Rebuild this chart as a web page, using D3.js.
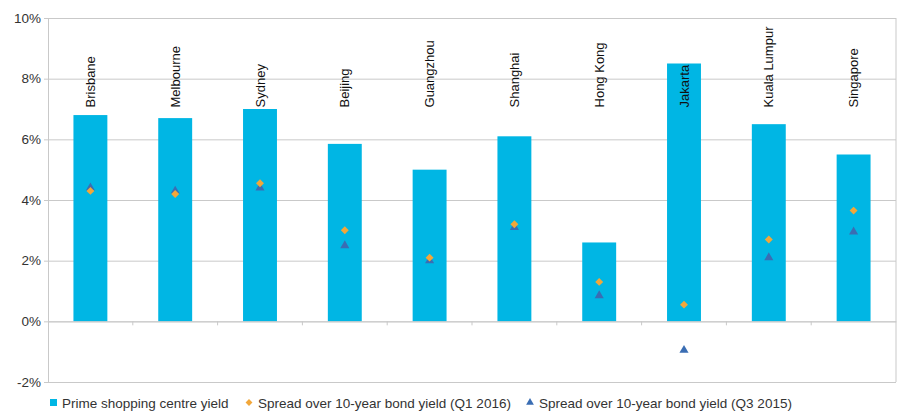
<!DOCTYPE html>
<html>
<head>
<meta charset="utf-8">
<script src="https://cdn.jsdelivr.net/npm/d3@7/dist/d3.min.js"></script>
<style>
  html, body { margin: 0; padding: 0; background: #fff; }
  svg { display: block; font-family: "Liberation Sans", Arial, Helvetica, sans-serif; }
</style>
</head>
<body>
<svg id="chart" width="898" height="411"></svg>
<script>
// Cities
const cities = ["Brisbane", "Melbourne", "Sydney", "Beijing", "Guangzhou", "Shanghai", "Hong Kong", "Jakarta", "Kuala Lumpur", "Singapore"];
// Prime shopping centre yield (%)
const primeYield = [6.8, 6.7, 7.0, 5.85, 5.0, 6.1, 2.6, 8.5, 6.5, 5.5];
// Spread over 10-year bond yield, Q1 2016 (%)
const spreadQ1_2016 = [4.3, 4.2, 4.55, 3.0, 2.1, 3.2, 1.3, 0.55, 2.7, 3.65];
// Spread over 10-year bond yield, Q3 2015 (%)
const spreadQ3_2015 = [4.4, 4.3, 4.4, 2.5, 2.0, 3.1, 0.85, -0.95, 2.1, 2.95];
// Y axis ticks (%)
const yTicks = [-2, 0, 2, 4, 6, 8, 10];
const legendLabels = ["Prime shopping centre yield", "Spread over 10-year bond yield (Q1 2016)", "Spread over 10-year bond yield (Q3 2015)"];

const colBar = "#00b6e4", colDiamond = "#f2a73a", colTri = "#3a6db3";
const gridCol = "#c9c9c9", textCol = "#333";

const svg = d3.select("#chart");
const m = { left: 48, right: 2, top: 18, bottom: 29 };
const W = 898, H = 411;

const x = d3.scaleBand().domain(cities).range([m.left, W - m.right]).padding(0);
const y = d3.scaleLinear().domain([-2, 10]).range([H - m.bottom, m.top]);
const barW = x.bandwidth() * 0.4;

// gridlines and y labels
const yAxis = d3.axisLeft(y).tickValues(yTicks).tickSize(-(W - m.right - m.left)).tickSizeOuter(0)
  .tickFormat(d => d + "%").tickPadding(7);
const gy = svg.append("g").attr("transform", `translate(${m.left},0)`).call(yAxis);
gy.select(".domain").attr("stroke", gridCol);
gy.selectAll(".tick line").attr("stroke", gridCol).attr("x1", -4);
gy.selectAll(".tick text").attr("fill", textCol).attr("font-size", 13.5).attr("font-family", "Liberation Sans, Arial, sans-serif");

// right border
svg.append("line")
  .attr("x1", W - m.right).attr("x2", W - m.right)
  .attr("y1", y(10)).attr("y2", y(-2)).attr("stroke", gridCol);

// bars
svg.append("g").selectAll("rect").data(cities).join("rect")
  .attr("x", d => x(d) + (x.bandwidth() - barW) / 2)
  .attr("width", barW)
  .attr("y", (d, i) => y(primeYield[i]))
  .attr("height", (d, i) => y(0) - y(primeYield[i]))
  .attr("fill", colBar);

// zero axis with category ticks
const xAxis = d3.axisBottom(x).tickSize(0).tickFormat("");
const gx = svg.append("g").attr("transform", `translate(0,${y(0)})`).call(xAxis);
gx.select(".domain").attr("stroke", gridCol);
svg.append("g").selectAll("line").data(cities.slice(1)).join("line")
  .attr("x1", d => x(d)).attr("x2", d => x(d))
  .attr("y1", y(0)).attr("y2", y(0) + 4).attr("stroke", gridCol);

// city labels, rotated, reading upward from a common baseline
svg.append("g").selectAll("text").data(cities).join("text")
  .attr("transform", d => `translate(${x(d) + x.bandwidth() / 2},${y(7.05)}) rotate(-90)`)
  .attr("text-anchor", "start").attr("dy", "0.35em")
  .attr("font-size", 13).attr("fill", "#111")
  .text(d => d);

// markers
const diamond = d3.symbol().type(d3.symbolDiamond2).size(40);
const tri = d3.symbol().type(d3.symbolTriangle).size(36);
const cx = d => x(d) + x.bandwidth() / 2;

svg.append("g").selectAll("path").data(cities).join("path")
  .attr("d", tri)
  .attr("transform", (d, i) => `translate(${cx(d)},${y(spreadQ3_2015[i])})`)
  .attr("fill", colTri);
svg.append("g").selectAll("path").data(cities).join("path")
  .attr("d", diamond)
  .attr("transform", (d, i) => `translate(${cx(d)},${y(spreadQ1_2016[i])})`)
  .attr("fill", colDiamond);

// legend
const ly = 403;
const leg = svg.append("g").attr("font-size", 13.5).attr("fill", textCol);
const legX = [50, 249, 530];
leg.append("rect").attr("x", legX[0]).attr("y", ly - 4).attr("width", 7).attr("height", 7).attr("fill", colBar);
leg.append("path").attr("d", d3.symbol().type(d3.symbolDiamond2).size(30)).attr("transform", `translate(${legX[1]},${ly - 0.5})`).attr("fill", colDiamond);
leg.append("path").attr("d", d3.symbol().type(d3.symbolTriangle).size(26)).attr("transform", `translate(${legX[2]},${ly - 0.5})`).attr("fill", colTri);
legendLabels.forEach((t, i) => {
  leg.append("text").attr("x", legX[i] + (i === 0 ? 12 : 9)).attr("y", ly).attr("dy", "0.35em").text(t);
});
</script>
</body>
</html>
